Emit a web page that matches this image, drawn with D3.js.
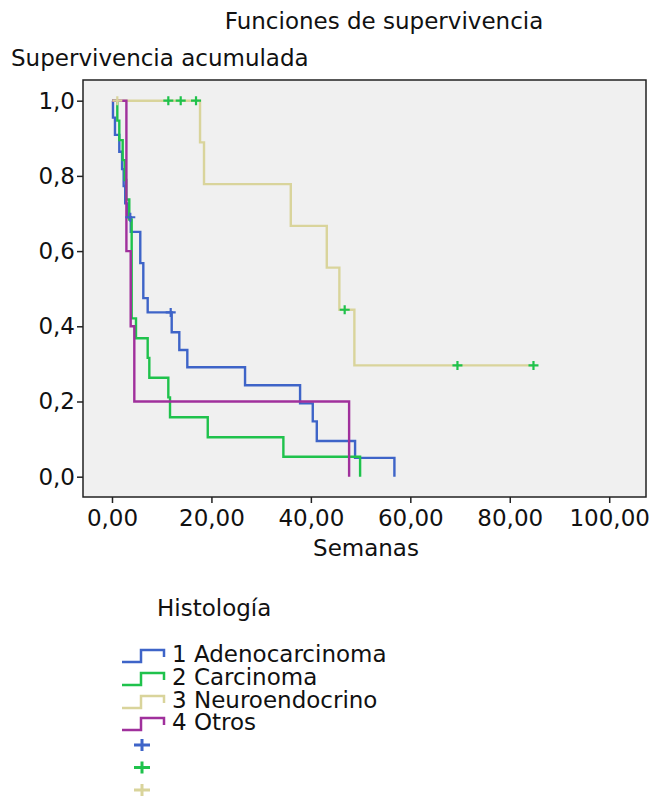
<!DOCTYPE html>
<html>
<head>
<meta charset="utf-8">
<script src="https://cdn.jsdelivr.net/npm/d3@7"></script>
<style>
  body { margin: 0; background: #fff; }
  text { font-family: "DejaVu Sans", Verdana, sans-serif; font-size: 23px; fill: #111; }
</style>
</head>
<body>
<svg id="km" width="653" height="797"></svg>
<script>
// Kaplan-Meier curves per histology group (time in weeks, cumulative survival)
const groups = ["1 Adenocarcinoma", "2 Carcinoma", "3 Neuroendocrino", "4 Otros"];

const adenoTime = [0, 0.2, 0.6, 1.47, 2.03, 2.35, 2.66, 3.16, 3.78, 5.69, 6.3, 7.18, 12.01, 13.54, 15.15, 26.76, 37.83, 40.38, 41.19, 48.89, 56.8];
const adenoSurv = [1.0, 0.955, 0.909, 0.864, 0.818, 0.773, 0.727, 0.69, 0.651, 0.568, 0.475, 0.437, 0.384, 0.337, 0.291, 0.243, 0.195, 0.147, 0.095, 0.05, 0];

const carcTime = [0, 1.07, 1.47, 2.15, 2.56, 2.86, 3.48, 3.96, 4.83, 7.18, 7.51, 11.33, 11.67, 19.26, 34.47, 49.9];
const carcSurv = [1.0, 0.947, 0.895, 0.842, 0.789, 0.737, 0.684, 0.421, 0.368, 0.316, 0.263, 0.211, 0.158, 0.105, 0.053, 0];

const neuroTime = [0, 17.71, 18.51, 35.96, 43.2, 45.73, 48.75, 84.77];
const neuroSurv = [1.0, 0.889, 0.778, 0.667, 0.556, 0.444, 0.296, 0.296];

const otrosTime = [0, 2.9, 3.76, 4.49, 47.69];
const otrosSurv = [1.0, 0.6, 0.4, 0.2, 0];

// censored cases, coloured as they appear in the picture
const blueCensTime = [3.68, 11.81];
const blueCensSurv = [0.69, 0.437];
const greenCensTime = [11.33, 13.82, 16.9, 46.8, 69.48, 84.77];
const greenCensSurv = [1.0, 1.0, 1.0, 0.444, 0.296, 0.296];
const beigeCensTime = [1.07];
const beigeCensSurv = [1.0];

const xTicks = [0, 20, 40, 60, 80, 100];
const yTicks = [0, 0.2, 0.4, 0.6, 0.8, 1.0];

const colors = ["#3e64c8", "#1fc24c", "#d9d49b", "#a0309c"];

const svg = d3.select("#km");
const plot = {left: 83, right: 646, top: 80, bottom: 497};

const x = d3.scaleLinear().domain([-5.83, 107.4]).range([plot.left, plot.right]);
const y = d3.scaleLinear().domain([-0.054, 1.055]).range([plot.bottom, plot.top]);

const fmtX = d => d3.format(".2f")(d).replace(".", ",");
const fmtY = d => d3.format(".1f")(d).replace(".", ",");

svg.append("rect")
    .attr("x", plot.left).attr("y", plot.top)
    .attr("width", plot.right - plot.left).attr("height", plot.bottom - plot.top)
    .attr("fill", "#f0f0f0");

// axes
const xAxis = svg.append("g")
    .attr("transform", `translate(0,${plot.bottom})`)
    .call(d3.axisBottom(x).tickValues(xTicks).tickSize(6).tickPadding(7).tickFormat(fmtX));
const yAxis = svg.append("g")
    .attr("transform", `translate(${plot.left},0)`)
    .call(d3.axisLeft(y).tickValues(yTicks).tickSize(6).tickPadding(2).tickFormat(fmtY));
[xAxis, yAxis].forEach(a => {
    a.select(".domain").remove();
    a.selectAll("line").attr("stroke", "#222").attr("stroke-width", 1.5);
    a.selectAll("text").attr("font-size", null).attr("font-family", null).attr("fill", "#111");
});

// series
const line = d3.line()
    .x(d => x(d[0]))
    .y(d => y(d[1]))
    .curve(d3.curveStepAfter);

const series = [
    d3.zip(adenoTime, adenoSurv),
    d3.zip(carcTime, carcSurv),
    d3.zip(neuroTime, neuroSurv),
    d3.zip(otrosTime, otrosSurv)
];

svg.append("g").selectAll("path")
    .data(series)
    .join("path")
    .attr("d", line)
    .attr("fill", "none")
    .attr("stroke", (d, i) => colors[i])
    .attr("stroke-width", 2.4);

// censor marks
function plus(cx, cy, w, h) {
    return `M${cx - w},${cy}H${cx + w}M${cx},${cy - h}V${cy + h}`;
}
const censors = [
    {pts: d3.zip(blueCensTime, blueCensSurv), c: colors[0]},
    {pts: d3.zip(beigeCensTime, beigeCensSurv), c: colors[2]},
    {pts: d3.zip(greenCensTime, greenCensSurv), c: colors[1]}
];
censors.forEach(cs => {
    svg.append("g").selectAll("path")
        .data(cs.pts)
        .join("path")
        .attr("d", d => plus(x(d[0]), y(d[1]), 5, 4.5))
        .attr("stroke", cs.c)
        .attr("stroke-width", 2.2)
        .attr("fill", "none");
});

// frame
svg.append("rect")
    .attr("x", plot.left).attr("y", plot.top)
    .attr("width", plot.right - plot.left).attr("height", plot.bottom - plot.top)
    .attr("fill", "none").attr("stroke", "#222").attr("stroke-width", 1.5);

// titles
svg.append("text").attr("x", 384).attr("y", 29).attr("text-anchor", "middle").text("Funciones de supervivencia");
svg.append("text").attr("x", 11).attr("y", 66).text("Supervivencia acumulada");
svg.append("text").attr("x", 366).attr("y", 556).attr("text-anchor", "middle").text("Semanas");

// legend
svg.append("text").attr("x", 157).attr("y", 616).text("Histología");
const rowY = [662, 685, 708, 730];
groups.forEach((g, i) => {
    const b = rowY[i];
    svg.append("path")
        .attr("d", `M122,${b}H141V${b - 12}H164V${b - 5}`)
        .attr("fill", "none").attr("stroke", colors[i]).attr("stroke-width", 2.5);
    svg.append("text").attr("x", 172).attr("y", b).text(g);
});
const censLegend = [colors[0], colors[1], colors[2]];
censLegend.forEach((c, i) => {
    svg.append("path")
        .attr("d", plus(142, 745 + i * 22.5, 8, 6))
        .attr("stroke", c).attr("stroke-width", 3).attr("fill", "none");
});
</script>
</body>
</html>
